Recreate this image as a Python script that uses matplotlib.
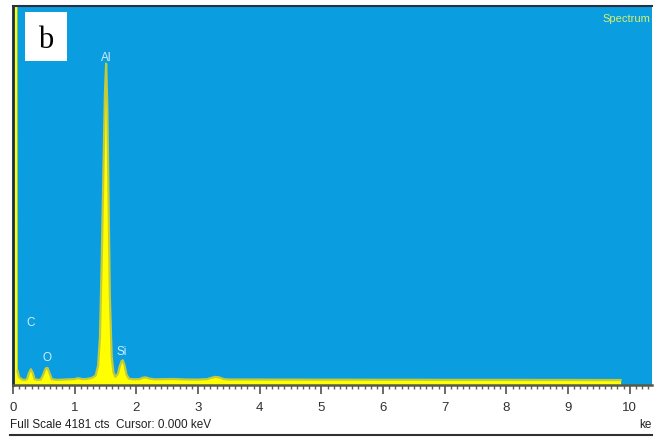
import matplotlib
matplotlib.use("Agg")
import matplotlib.pyplot as plt
from matplotlib.ticker import MultipleLocator
from matplotlib.lines import Line2D
from matplotlib.patches import Rectangle

# ---- data (energy in keV, counts) ----
energy_kev = [0.00, 0.01, 0.015, 0.07, 0.075, 0.10, 0.15, 0.20, 0.23, 0.26, 0.29, 0.32, 0.35,
              0.40, 0.45, 0.49, 0.53, 0.56, 0.59, 0.63, 0.70, 0.80, 0.90, 1.00, 1.04, 1.08,
              1.13, 1.20, 1.28, 1.34, 1.38, 1.41, 1.44, 1.47, 1.49, 1.51, 1.53, 1.55, 1.57,
              1.60, 1.63, 1.66, 1.70, 1.73, 1.76, 1.78, 1.81, 1.84, 1.88, 1.95, 2.05, 2.10,
              2.15, 2.22, 2.30, 2.45, 2.60, 2.80, 3.00, 3.15, 3.22, 3.28, 3.34, 3.42, 3.50,
              3.80, 4.20, 4.60, 5.00, 5.50, 6.00, 6.50, 7.00, 7.50, 8.00, 8.50, 9.00, 9.50,
              9.85, 9.86]
counts = [0, 0, 5200, 5200, 120, 50, 25, 20, 35, 100, 140, 100, 30,
          22, 25, 80, 150, 155, 100, 30, 22, 24, 28, 30, 40, 38,
          30, 32, 45, 70, 180, 500, 1400, 2500, 3200, 3540, 3050, 2000, 950,
          280, 100, 55, 90, 170, 230, 240, 180, 80, 35, 28, 30, 45,
          50, 35, 28, 30, 32, 26, 25, 30, 45, 55, 50, 30, 26,
          26, 25, 25, 24, 24, 23, 23, 22, 22, 22, 21, 21, 20,
          20, 0]
full_scale = 4181
tick_values = list(range(11))
peak_names = ["C", "O", "Al", "Si"]
peak_label_kev = [0.28, 0.55, 1.51, 1.76]
peak_label_cts = [665, 275, 3613, 342]

BLUE = "#0a9de0"
NAVY = "#1b2c46"
YELLOW = "#ffff00"
EDGE = "#c2cc3a"
LABEL = "#d2ecf8"

fig = plt.figure(figsize=(6.6, 4.39), dpi=100)
W, H = 660.0, 439.0
ax = fig.add_axes([13 / W, (H - 386) / H, (652 - 13) / W, (386 - 7) / H])
ax.set_facecolor(BLUE)
ax.set_xlim(0, 10.36)
ax.set_ylim(-35, full_scale)

ax.fill_between(energy_kev, counts, -35, color=YELLOW, lw=0, zorder=2)
ax.plot(energy_kev[4:-1], counts[4:-1], color=EDGE, lw=1.6, zorder=3)

for name, xk, yc in zip(peak_names, peak_label_kev, peak_label_cts):
    ax.text(xk, yc, name, color=LABEL, fontsize=8.5, ha="center", va="center",
            family="Liberation Sans", zorder=4)

ax.text(0.997, 0.982, "Spectrum", transform=ax.transAxes, color="#d8ef6a",
        fontsize=8, ha="right", va="top", family="Liberation Sans")

# ticks
ax.set_xticks(tick_values)
ax.set_xticklabels([str(t) for t in tick_values], family="Liberation Sans",
                   fontsize=9.5, color="#303030")
ax.xaxis.set_minor_locator(MultipleLocator(0.1))
ax.tick_params(axis="x", which="major", direction="out", length=6.5, width=1.2,
               color="#505050", pad=5)
ax.tick_params(axis="x", which="minor", direction="out", length=3, width=1.0,
               color="#606060")
ax.set_yticks([])

ax.spines["right"].set_visible(False)
ax.spines["bottom"].set_color("#585a48")
ax.spines["bottom"].set_linewidth(1.8)
ax.spines["left"].set_color(NAVY)
ax.spines["left"].set_linewidth(2.0)
ax.spines["top"].set_color("#2a3040")
ax.spines["top"].set_linewidth(1.5)

# "b" label box
fig.add_artist(Rectangle((25 / W, (H - 62) / H), 42 / W, 49 / H,
                         transform=fig.transFigure, facecolor="white",
                         edgecolor="none", zorder=5))
fig.text(46 / W, (H - 40) / H, "b", family="Liberation Serif", fontsize=22,
         ha="center", va="center", color="black", zorder=6)

# footer
fig.text(10 / W, (H - 425) / H, "Full Scale 4181 cts  Cursor: 0.000 keV",
         family="Liberation Sans", fontsize=8.5, color="#202020",
         ha="left", va="center")
fig.text(639 / W, (H - 425) / H, "ke", family="Liberation Sans", fontsize=8.5,
         color="#202020", ha="left", va="center")
fig.add_artist(Line2D([10 / W, 652 / W], [3 / H, 3 / H], color="#303030",
                      lw=1.5, transform=fig.transFigure))

fig.savefig("out.png", dpi=100)
